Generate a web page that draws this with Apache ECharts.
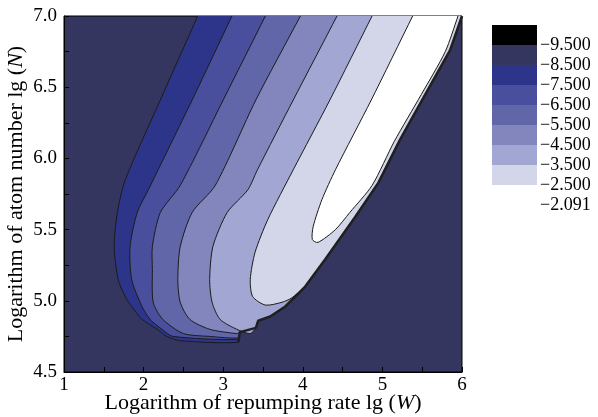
<!DOCTYPE html>
<html>
<head>
<meta charset="utf-8">
<script src="https://cdn.jsdelivr.net/npm/echarts@6/dist/echarts.min.js"></script>
<style>
  html, body { margin: 0; padding: 0; background: #fff; }
  #chart { width: 598px; height: 417px; }
</style>
</head>
<body>
<div id="chart"></div>
<script>
// contour lines, [lg W, lg N], from top going round the bottom
const cliff = [[3.19,4.71],[3.21,4.78],[3.41,4.81],[3.44,4.86],[3.59,4.89],[3.78,4.96],[4.03,5.10],[4.28,5.29],[4.66,5.59],[4.95,5.83],[5.22,6.13],[5.56,6.47],[5.85,6.76],[6.0,7.0]]
const c85 = [[2.68,7.0],[2.21,6.41],[1.77,5.85],[1.67,5.62],[1.63,5.38],[1.68,5.15],[1.77,5.03],[1.85,4.96],[1.98,4.87],[2.17,4.80],[2.29,4.75],[2.46,4.72],[3.19,4.71]]
const c75 = [[3.11,7.0],[2.61,6.41],[2.06,5.78],[1.92,5.62],[1.83,5.38],[1.85,5.15],[1.98,4.96],[2.08,4.87],[2.23,4.80],[2.37,4.75],[3.19,4.73]]
const c65 = [[3.53,7.0],[3.0,6.41],[2.46,5.81],[2.21,5.62],[2.11,5.38],[2.11,5.22],[2.12,4.99],[2.24,4.87],[2.50,4.77],[2.83,4.75],[3.19,4.74]]
const c55 = [[3.97,7.0],[3.41,6.41],[2.90,5.81],[2.61,5.62],[2.46,5.38],[2.43,5.15],[2.46,4.99],[2.58,4.87],[2.83,4.80],[3.17,4.77]]
const c45 = [[4.43,7.0],[3.88,6.41],[3.43,5.92],[3.31,5.78],[3.05,5.62],[2.87,5.38],[2.83,5.15],[2.86,4.99],[2.96,4.87],[3.17,4.80],[3.34,4.77]]
const c35 = [[4.87,7.0],[4.34,6.41],[3.88,5.92],[3.56,5.57],[3.40,5.34],[3.34,5.15],[3.37,5.03],[3.53,4.97],[3.74,4.99],[3.86,5.02]]
// innermost one is closed by itself
const c25 = [[5.38,7.0],[4.86,6.41],[4.41,5.92],[4.24,5.71],[4.13,5.52],[4.12,5.43],[4.19,5.41],[4.41,5.50],[4.59,5.62],[4.87,5.81],[5.15,6.12],[5.49,6.45],[5.79,6.75],[5.95,7.0]]

const cbLabels = ['\u22129.500','\u22128.500','\u22127.500','\u22126.500','\u22125.500','\u22124.500','\u22123.500','\u22122.500','\u22122.091']

const bgColor = '#34365f'
const cbColors = ['#000000', bgColor, '#2c3589', '#4a4f9d', '#6166a9', '#8286bc', '#a2a6d2', '#d3d5e9', '#ffffff']
const font = "'Liberation Serif', 'DejaVu Serif', serif"

// carry a line on past the top frame so the smoothing never bends inside it
function pastTop(a, b){
  const t = (7.3 - a[1]) / (b[1] - a[1])
  return [a[0] + (b[0] - a[0]) * t, 7.3]
}

// each band = its left contour + the steep edge on the right
function band(c){
  const last = c[c.length - 1]
  const body = (c === c25) ? c.slice() : c.concat(cliff.filter(p => p[0] > last[0] && p[1] >= last[1]))
  const n = body.length
  return [pastTop(body[1], body[0])].concat(body, [pastTop(body[n - 2], body[n - 1])])
}

const levels = [c85, c75, c65, c55, c45, c35, c25]
const fills = cbColors.slice(2)

const contourSeries = levels.map((c, i) => {
  const pts = band(c)
  return {
    type: 'custom',
    xAxisIndex: 0,
    yAxisIndex: 0,
    clip: true,
    data: pts,
    renderItem: (params, api) => {
      if (params.dataIndex !== 0) return
      return {
        type: 'polygon',
        shape: { points: pts.map(p => api.coord(p)), smooth: 0.25 },
        style: { fill: fills[i], stroke: '#1b1b1b', lineWidth: 1 }
      }
    }
  }
})

// the steep edge where all the lines pile up
const edgeSeries = {
  type: 'line',
  xAxisIndex: 0,
  yAxisIndex: 0,
  data: cliff,
  symbol: 'none',
  lineStyle: { color: '#202020', width: 2.5 },
  silent: true,
  z: 3
}

const cbSeries = cbColors.map(col => ({
  type: 'bar',
  xAxisIndex: 1,
  yAxisIndex: 1,
  stack: 'cb',
  barWidth: '100%',
  data: [1],
  itemStyle: { color: col },
  silent: true
}))

const chart = echarts.init(document.getElementById('chart'))
chart.setOption({
  animation: false,
  textStyle: { fontFamily: font },
  grid: [
    { left: 64, right: 136, top: 16, bottom: 45, show: true, backgroundColor: bgColor, borderColor: '#000', borderWidth: 1, outerBoundsMode: 'none', containLabel: false },
    { left: 492, width: 45, top: 25, height: 180, outerBoundsMode: 'none', containLabel: false }
  ],
  xAxis: [
    {
      type: 'value', min: 1, max: 6, interval: 0.5, gridIndex: 0,
      axisLine: { lineStyle: { color: '#000' } },
      axisTick: { inside: true, length: 5, lineStyle: { color: '#000' } },
      splitLine: { show: false },
      axisLabel: { color: '#000', fontSize: 19, fontFamily: font, margin: 4,
        formatter: v => Number.isInteger(v) ? String(v) : '' },
      name: 'Logarithm of repumping rate lg ({i|W})',
      nameLocation: 'middle', nameGap: 20, nameMoveOverlap: false,
      nameTextStyle: { color: '#000', fontSize: 22, fontFamily: font,
        rich: { i: { fontStyle: 'italic', fontSize: 22, fontFamily: font, color: '#000' } } }
    },
    { type: 'category', gridIndex: 1, data: ['cb'], show: false }
  ],
  yAxis: [
    {
      type: 'value', min: 4.5, max: 7, interval: 0.25, gridIndex: 0,
      axisLine: { lineStyle: { color: '#000' } },
      axisTick: { inside: true, length: 5, lineStyle: { color: '#000' } },
      splitLine: { show: false },
      axisLabel: { color: '#000', fontSize: 19, fontFamily: font, margin: 7,
        formatter: v => (Math.round(v * 100) % 50 === 0) ? v.toFixed(1) : '' },
      name: 'Logarithm of atom number lg ({i|N})',
      nameLocation: 'middle', nameGap: 37, nameMoveOverlap: false,
      nameTextStyle: { color: '#000', fontSize: 22, fontFamily: font,
        rich: { i: { fontStyle: 'italic', fontSize: 22, fontFamily: font, color: '#000' } } }
    },
    {
      type: 'value', gridIndex: 1, min: 0, max: 9, interval: 1, inverse: true, position: 'right',
      axisLine: { show: false }, axisTick: { show: false }, splitLine: { show: false },
      axisLabel: { color: '#000', fontSize: 18, fontFamily: font, margin: 3,
        formatter: v => v >= 1 ? cbLabels[v - 1] : '' }
    }
  ],
  series: contourSeries.concat([edgeSeries], cbSeries)
})
</script>
</body>
</html>
